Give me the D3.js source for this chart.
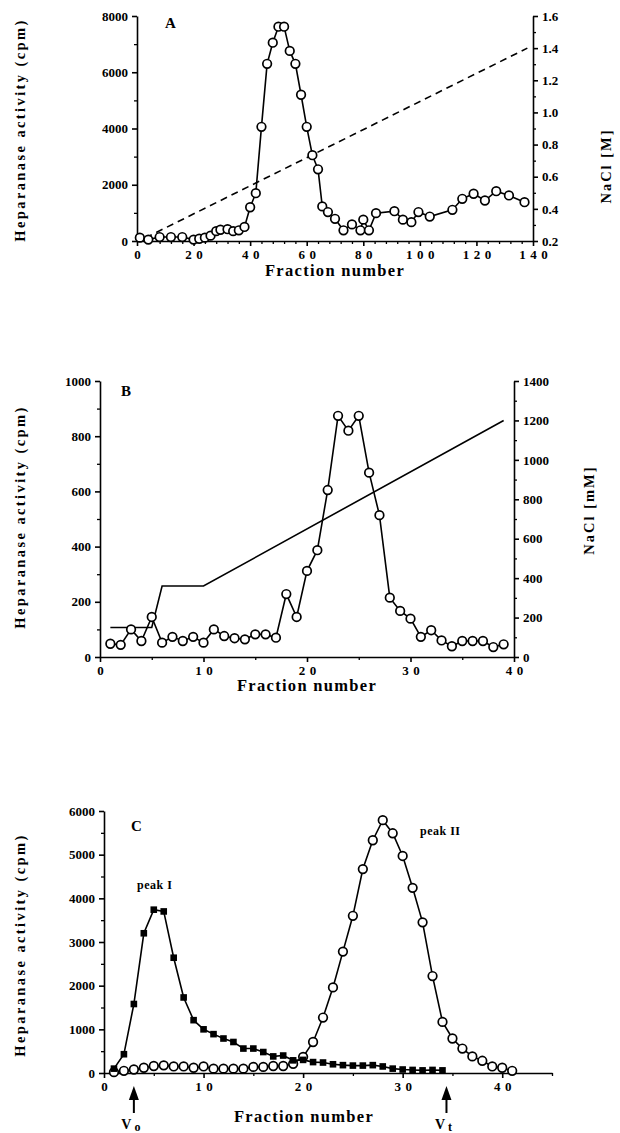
<!DOCTYPE html>
<html>
<head>
<meta charset="utf-8">
<script src="https://cdn.jsdelivr.net/npm/d3@7"></script>
<style>
  body { margin: 0; background: #fff; }
  svg { display: block; }
  text { font-family: "Liberation Serif", "Times New Roman", serif; font-weight: bold; fill: #000; }
</style>
</head>
<body>
<div id="chart"></div>
<script>
// ---- data: panel A (heparin-Sepharose, NaCl in M) ----
const A_FRACTION = [1, 4, 8, 12, 16, 20, 22, 24, 26, 28, 29.5, 32, 34, 36, 38, 40, 42, 44, 46, 48, 50, 52, 54, 56, 58, 60, 62, 64, 65.5, 67.5, 70, 73, 76, 79, 80, 82, 84.5, 91, 94, 97, 99.5, 103.5, 111.5, 115, 119, 123, 127, 131.5, 137];
const A_ACTIVITY = [120, 50, 140, 140, 140, 50, 80, 120, 190, 350, 400, 420, 350, 380, 500, 1200, 1700, 4060, 6300, 7050, 7620, 7620, 6760, 6300, 5200, 4060, 3050, 2550, 1230, 1030, 790, 380, 590, 380, 760, 380, 990, 1060, 760, 670, 1030, 870, 1110, 1500, 1680, 1440, 1770, 1620, 1380];
const A_NACL_FRACTION = [3, 138];
const A_NACL = [0.22, 1.4];
const A_X_TICKS = [0, 20, 40, 60, 80, 100, 120, 140];
const A_Y_TICKS = [0, 2000, 4000, 6000, 8000];
const A_Y2_TICKS = [0.2, 0.4, 0.6, 0.8, 1.0, 1.2, 1.4, 1.6];

// ---- data: panel B (NaCl in mM) ----
const B_FRACTION = d3.range(1, 40);
const B_ACTIVITY = [48, 44, 100, 58, 145, 52, 73, 58, 73, 52, 100, 76, 68, 64, 82, 82, 70, 228, 145, 312, 387, 605, 874, 820, 874, 668, 514, 215, 167, 139, 73, 97, 60, 39, 58, 58, 58, 36, 46];
const B_NACL_FRACTION = [1, 5, 6, 10, 39];
const B_NACL = [150, 150, 360, 360, 1200];
const B_X_TICKS = [0, 10, 20, 30, 40];
const B_Y_TICKS = [0, 200, 400, 600, 800, 1000];
const B_Y2_TICKS = [0, 200, 400, 600, 800, 1000, 1200, 1400];

// ---- data: panel C (gel filtration, two runs) ----
const C_SQUARE_FRACTION = d3.range(1, 35);
const C_SQUARE = [100, 430, 1580, 3200, 3740, 3700, 2640, 1730, 1210, 1000, 890, 790, 710, 560, 560, 480, 380, 400, 290, 300, 250, 240, 200, 180, 170, 170, 180, 150, 100, 80, 70, 60, 70, 60];
const C_CIRCLE_FRACTION = d3.range(1, 42);
const C_CIRCLE = [20, 50, 80, 120, 160, 175, 150, 150, 120, 150, 100, 100, 100, 100, 140, 140, 160, 160, 210, 370, 710, 1270, 1960, 2780, 3600, 4670, 5330, 5790, 5490, 4970, 4240, 3450, 2220, 1170, 790, 560, 380, 280, 150, 120, 50];
const C_X_TICKS = [0, 10, 20, 30, 40];
const C_Y_TICKS = [0, 1000, 2000, 3000, 4000, 5000, 6000];
const C_MARKERS = [{ label: 'V', sub: 'o', fraction: 3 }, { label: 'V', sub: 't', fraction: 34.4 }];

const W = 620, H = 1133;
const svg = d3.select('#chart').append('svg')
  .attr('width', W).attr('height', H)
  .attr('viewBox', `0 0 ${W} ${H}`);
svg.append('rect').attr('width', W).attr('height', H).attr('fill', '#fff');

const STROKE = 1.6;

// draws one axis with labelled majors and short unlabelled minors
function axis(g, gen, scale, major, minor, fmt, spacing) {
  const a = g.append('g');
  a.call(gen(scale).tickValues(major).tickSize(5).tickSizeOuter(0).tickPadding(4).tickFormat(fmt));
  a.select('.domain').attr('stroke-width', STROKE);
  a.selectAll('.tick line').attr('stroke-width', STROKE);
  a.selectAll('text').attr('font-size', 13).attr('font-family', null)
    .style('letter-spacing', spacing + 'px')
    .attr('dx', spacing / 2);
  if (minor) {
    const m = g.append('g');
    m.call(gen(scale).tickValues(minor).tickSize(3).tickSizeOuter(0).tickFormat(''));
    m.select('.domain').remove();
    m.selectAll('.tick line').attr('stroke-width', 1.3);
  }
  return a;
}

function title(text, x, y, rotate, size, spacing) {
  svg.append('text')
    .attr('transform', `translate(${x},${y}) rotate(${rotate})`)
    .attr('text-anchor', 'middle')
    .attr('font-size', size)
    .style('letter-spacing', spacing + 'px')
    .text(text);
}

function series(x, y, xs, ys, marker) {
  const pts = xs.map((d, i) => [x(d), y(ys[i])]);
  svg.append('path')
    .attr('d', d3.line()(pts))
    .attr('fill', 'none').attr('stroke', '#000').attr('stroke-width', STROKE);
  if (marker === 'circle') {
    svg.append('g').selectAll('circle').data(pts).join('circle')
      .attr('cx', d => d[0]).attr('cy', d => d[1]).attr('r', 4.3)
      .attr('fill', '#fff').attr('stroke', '#000').attr('stroke-width', 1.7);
  } else if (marker === 'square') {
    svg.append('g').selectAll('rect').data(pts).join('rect')
      .attr('x', d => d[0] - 3.3).attr('y', d => d[1] - 3.3)
      .attr('width', 6.6).attr('height', 6.6).attr('fill', '#000');
  }
}

// ============ Panel A ============
{
  const x = d3.scaleLinear().domain([0, 140]).range([137, 533]);
  const y = d3.scaleLinear().domain([0, 8000]).range([241, 16]);
  const y2 = d3.scaleLinear().domain([0.2, 1.6]).range([241, 16]);

  axis(svg.append('g').attr('transform', `translate(0,${y(0)})`), d3.axisBottom, x,
    A_X_TICKS, d3.range(0, 141, 4).filter(v => v % 20), d3.format('d'), 4.5);
  axis(svg.append('g').attr('transform', `translate(${x(0)},0)`), d3.axisLeft, y,
    A_Y_TICKS, d3.range(1000, 8000, 2000), d3.format('d'), 0);
  axis(svg.append('g').attr('transform', `translate(${x(140)},0)`), d3.axisRight, y2,
    A_Y2_TICKS, d3.range(0.3, 1.6, 0.2), d3.format('.1f'), 0);

  svg.append('path')
    .attr('d', d3.line()(A_NACL_FRACTION.map((d, i) => [x(d), y2(A_NACL[i])])))
    .attr('fill', 'none').attr('stroke', '#000').attr('stroke-width', 1.6)
    .attr('stroke-dasharray', '7,5');
  series(x, y, A_FRACTION, A_ACTIVITY, 'circle');

  svg.append('text').attr('x', 165).attr('y', 28).attr('font-size', 15).text('A');
  title('Fraction number', 335, 276, 0, 16.5, 1.3);
  title('Heparanase activity (cpm)', 25, 130, -90, 14.5, 2.4);
  title('NaCl [M]', 611, 166, -90, 14.5, 2);
}

// ============ Panel B ============
{
  const x = d3.scaleLinear().domain([0, 40]).range([100, 514]);
  const y = d3.scaleLinear().domain([0, 1000]).range([657, 381]);
  const y2 = d3.scaleLinear().domain([0, 1400]).range([657, 381]);

  axis(svg.append('g').attr('transform', `translate(0,${y(0)})`), d3.axisBottom, x,
    B_X_TICKS, [5, 15, 25, 35], d3.format('d'), 4.5);
  axis(svg.append('g').attr('transform', `translate(${x(0)},0)`), d3.axisLeft, y,
    B_Y_TICKS, d3.range(100, 1000, 200), d3.format('d'), 0);
  axis(svg.append('g').attr('transform', `translate(${x(40)},0)`), d3.axisRight, y2,
    B_Y2_TICKS, d3.range(100, 1400, 200), d3.format('d'), 0);

  svg.append('path')
    .attr('d', d3.line()(B_NACL_FRACTION.map((d, i) => [x(d), y2(B_NACL[i])])))
    .attr('fill', 'none').attr('stroke', '#000').attr('stroke-width', 1.6);
  series(x, y, B_FRACTION, B_ACTIVITY, 'circle');

  svg.append('text').attr('x', 121).attr('y', 396).attr('font-size', 15).text('B');
  title('Fraction number', 307, 691, 0, 16.5, 1.3);
  title('Heparanase activity (cpm)', 25, 517, -90, 14.5, 2.4);
  title('NaCl [mM]', 594, 510, -90, 14.5, 2);
}

// ============ Panel C ============
{
  const x = d3.scaleLinear().domain([0, 45]).range([104, 552]);
  const y = d3.scaleLinear().domain([0, 6000]).range([1073, 811]);

  axis(svg.append('g').attr('transform', `translate(0,${y(0)})`), d3.axisBottom, x,
    C_X_TICKS, [5, 15, 25, 35, 45], d3.format('d'), 4.5);
  axis(svg.append('g').attr('transform', `translate(${x(0)},0)`), d3.axisLeft, y,
    C_Y_TICKS, d3.range(500, 6000, 1000), d3.format('d'), 0);

  series(x, y, C_CIRCLE_FRACTION, C_CIRCLE, 'circle');
  series(x, y, C_SQUARE_FRACTION, C_SQUARE, 'square');

  // void / total volume arrows
  C_MARKERS.forEach(m => {
    const cx = x(m.fraction);
    svg.append('line').attr('x1', cx).attr('x2', cx).attr('y1', 1098).attr('y2', 1113)
      .attr('stroke', '#000').attr('stroke-width', 2);
    svg.append('path').attr('d', `M${cx},1086 L${cx - 5},1100 L${cx + 5},1100 Z`).attr('fill', '#000');
    const t = svg.append('text').attr('x', cx - 3).attr('y', 1129).attr('text-anchor', 'middle').attr('font-size', 14);
    t.append('tspan').text(m.label);
    t.append('tspan').attr('dx', 3).attr('dy', 2).attr('font-size', 12).text(m.sub);
  });

  svg.append('text').attr('x', 131).attr('y', 831).attr('font-size', 15).text('C');
  svg.append('text').attr('x', 137).attr('y', 889).attr('font-size', 12).style('letter-spacing', '0.5px').text('peak  I');
  svg.append('text').attr('x', 420).attr('y', 835).attr('font-size', 12).style('letter-spacing', '0.5px').text('peak  II');
  title('Fraction number', 304, 1122, 0, 16.5, 1.3);
  title('Heparanase activity (cpm)', 25, 945, -90, 14.5, 2.4);
}
</script>
</body>
</html>
